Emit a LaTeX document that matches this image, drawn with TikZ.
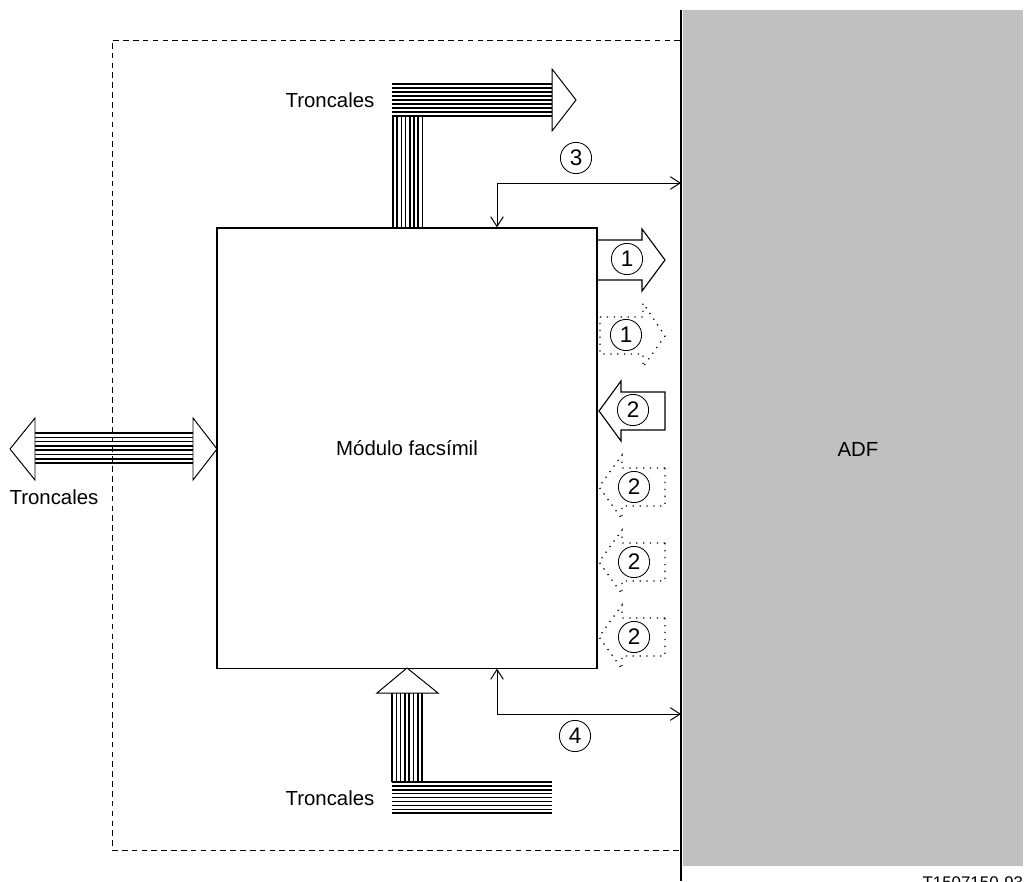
\documentclass[tikz,border=0pt]{standalone}
\usepackage{fontspec}
\setmainfont{Liberation Sans}
\usetikzlibrary{positioning, arrows.meta, calc}
\definecolor{adfgray}{RGB}{192,192,192}

\begin{document}
\begin{tikzpicture}[
        x=0.025cm, y=-0.025cm,
        font=\fontsize{14.5}{17}\selectfont,
        module/.style={rectangle, draw, line width=0.8pt, minimum width=9.5cm, minimum height=11cm},
        area/.style={rectangle, fill=adfgray, inner sep=0pt, anchor=north west, minimum width=8.5cm, minimum height=21.375cm},
        num/.style={circle, draw, line width=0.6pt, minimum size=0.78cm, inner sep=0pt, font=\fontsize{16}{18}\selectfont},
        link/.style={{Straight Barb[length=7pt,width=9pt]}-{Straight Barb[length=7pt,width=9pt]}, line width=0.7pt},
        wire/.style={line width=1.1pt},
        head/.style={draw, fill=white, line width=0.7pt, line join=miter},
        block/.style={draw, line width=0.8pt, line join=miter},
        ghost/.style={draw, line width=0.9pt, dash pattern=on 0.9pt off 4pt}
    ]
    \useasboundingbox (0,0) rectangle (1031,881);

    % ADF side
    \node[area] (adf) at (683,10) {};
    \node (adflabel) at (858,449) {ADF};
    \coordinate (wtop) at (681,10);
    \coordinate (wbot) at (681,881);
    \draw[line width=1.5pt] (wtop) -- (wbot);

    % Boundary
    \draw[line width=0.7pt, dash pattern=on 4pt off 3pt] (680,40) -- (112,40) -- (112,850) -- (680,850);

    % Facsimile module
    \node[module] (box) at (407,448) {Módulo facsímil};

    % Top trunks
    \foreach \i in {0,...,8}
        \draw[wire] (392,84+4*\i) -- (552,84+4*\i);
    \foreach \i in {0,...,7}
        \draw[wire] (393+4.2*\i,116) -- (393+4.2*\i,228);
    \draw[head] (552,69) -- (576,100) -- (552,131) -- cycle;
    \node (trtop) at (330,100) {Troncales};

    % Left trunks
    \foreach \i in {0,...,7}
        \draw[wire] (35,433+4.3*\i) -- (193,433+4.3*\i);
    \draw[head] (35,418) -- (10,449) -- (35,480) -- cycle;
    \draw[head] (193,418) -- (217,449) -- (193,480) -- cycle;
    \node (trleft) at (54,497) {Troncales};

    % Bottom trunks
    \foreach \i in {0,...,7}
        \draw[wire] (392+4.3*\i,693) -- (392+4.3*\i,782);
    \foreach \i in {0,...,8}
        \draw[wire] (392,782+3.9*\i) -- (552,782+3.9*\i);
    \draw[head] (377,693) -- (407,668) -- (438,693) -- cycle;
    \node (trbot) at (330,798) {Troncales};

    % Interfaces 3 and 4
    \coordinate (t3) at (497,183);
    \coordinate (t4) at (497,714);
    \draw[link] (box.north -| t3) |- (t3 -| wtop);
    \draw[link] (box.south -| t4) |- (t4 -| wtop);
    \node[num] (c3) at (576,158) {3};
    \node[num] (c4) at (575,736) {4};

    % Interface 1
    \draw[block] (597,240) -- (642,240) -- (642,229) -- (665,260) -- (642,291) -- (642,280) -- (597,280) -- cycle;
    \node[num] (c1) at (627,259) {1};
    \draw[ghost] (600,317) -- (643,317) -- (643,303) -- (665,336) -- (643,367) -- (643,354) -- (600,354) -- cycle;
    \node[num] (c1b) at (626,335) {1};

    % Interface 2
    \draw[block] (665,392) -- (621,392) -- (621,381) -- (599,411) -- (621,441) -- (621,430) -- (665,430) -- cycle;
    \node[num] (c2) at (633,410) {2};
    \foreach \y in {487,562,637} {
        \draw[ghost] (665,\y-19) -- (622,\y-19) -- (622,\y-32) -- (599,\y) -- (622,\y+32) -- (622,\y+19) -- (665,\y+19) -- cycle;
        \node[num] (c2-\y) at (634,\y) {2};
    }

    % Reference
    \node[font=\fontsize{12}{14}\selectfont, anchor=base east] (ref) at (1028,888) {T1507150-93};

\end{tikzpicture}
\end{document}
